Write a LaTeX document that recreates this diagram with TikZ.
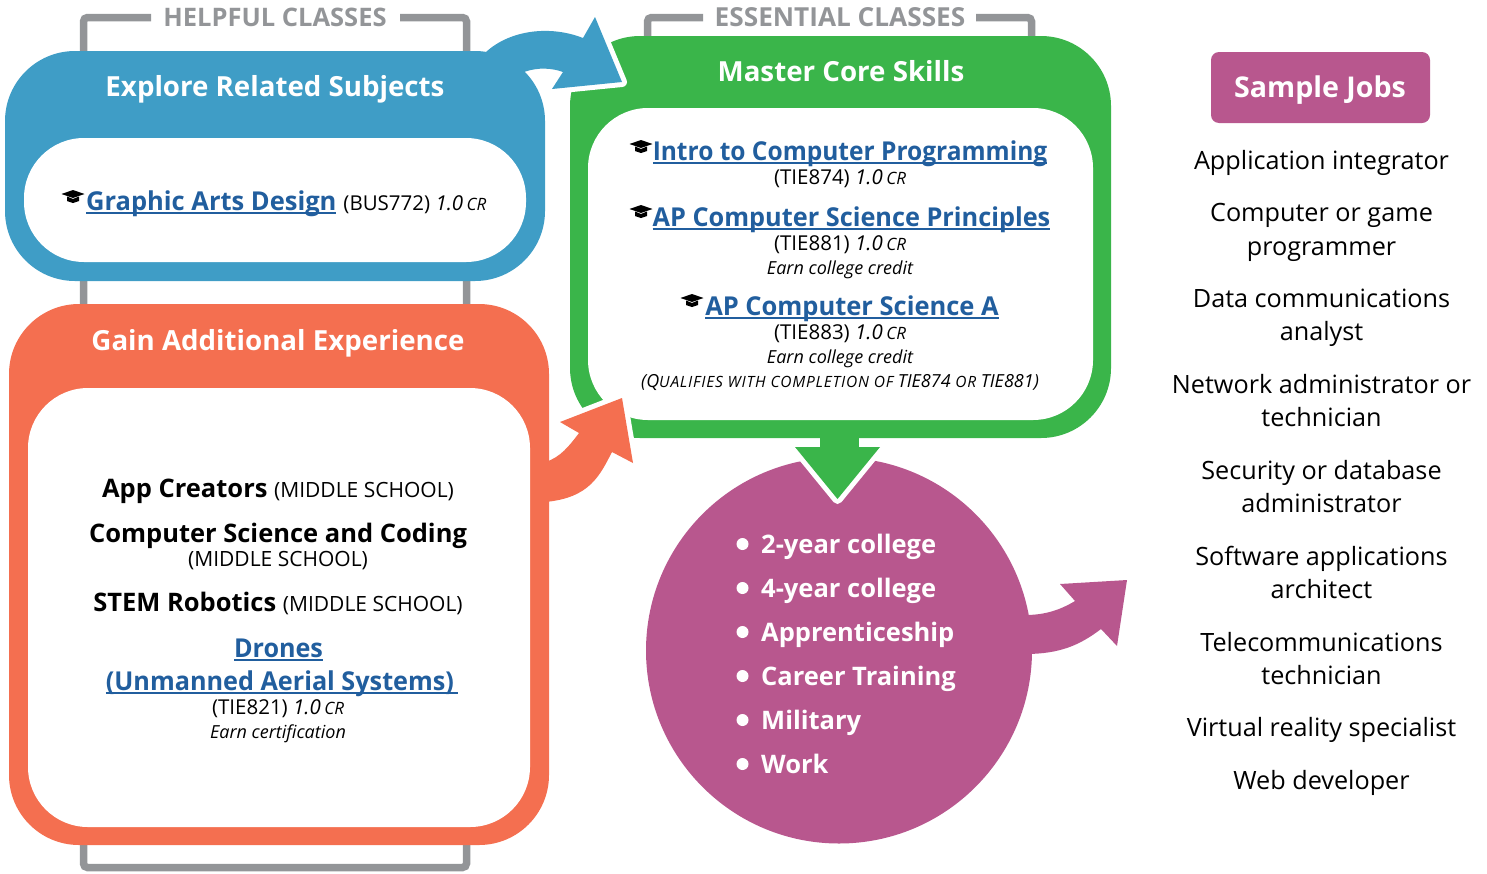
\documentclass[tikz,border=0pt]{standalone}
\usepackage{fontspec}
\setmainfont{Open Sans}
\definecolor{bluepanel}{HTML}{3F9DC6}
\definecolor{greenpanel}{HTML}{3AB54A}
\definecolor{orangepanel}{HTML}{F46F50}
\definecolor{purplepanel}{HTML}{B8578E}
\definecolor{bracketgray}{HTML}{939598}
\definecolor{linkblue}{HTML}{215E9E}
\newcommand{\linkline}[2][1]{\setbox0\hbox{\scalebox{#1}[1]{#2}}\rlap{\rule[-4pt]{\wd0}{1.8pt}}\box0}
\newcommand{\creditmark}{\textit{1.0\,{\fontsize{17}{17}\selectfont CR}}}
\newcommand{\lowcaps}[1]{{\fontsize{15.5}{16}\selectfont\addfontfeature{LetterSpace=5}#1}}
\tikzset{
    panel/.style={rounded corners=70pt, inner sep=0pt},
    hole/.style={fill=white, rounded corners=60pt, inner sep=0pt},
    bracket/.style={draw=bracketgray, line width=7.5pt, rounded corners=4pt},
    gap/.style={preaction={draw=white, line width=10pt, line join=round}},
    titletext/.style={anchor=base, text=white, font=\fontsize{27.7}{30}\selectfont\bfseries},
    headtext/.style={anchor=base, text=bracketgray, font=\fontsize{25.5}{28}\selectfont\bfseries},
    linktext/.style={anchor=base, text=linkblue, font=\fontsize{26}{30}\selectfont\bfseries},
    coursetext/.style={anchor=base, font=\fontsize{25.5}{30}\selectfont\bfseries},
    plaintext/.style={anchor=base, font=\fontsize{20.5}{24}\selectfont},
    notetext/.style={anchor=base, font=\fontsize{18}{22}\selectfont\itshape},
    pathtext/.style={anchor=base west, inner sep=0pt, text=white, font=\fontsize{25.5}{30}\selectfont\bfseries},
    jobtext/.style={anchor=base, font=\fontsize{25.2}{30}\selectfont},
    hat/.pic={
        \fill (-11.5,-2) -- (0,-6) -- (11.5,-2) -- (0,2) -- cycle;
        \fill (-6,0.5) -- (0,3) -- (6,0.5) -- (6,5) -- (0,7) -- (-6,5) -- cycle;
    }
}
\begin{document}
\begin{tikzpicture}[x=1pt, y=-1pt]
    \useasboundingbox (0,0) rectangle (1487,873);

    \draw[bracket] (151,17.5) -| (83.5,867.5) -| (466.5,17.5) -- (400,17.5);
    \draw[bracket] (703,17.5) -| (647.5,42);
    \draw[bracket] (976,17.5) -| (1031.5,42);
    \node[headtext] (helpful) at (275,26) {HELPFUL CLASSES};
    \node[headtext, font=\fontsize{26.2}{28}\selectfont\bfseries] (essential) at (840,26) {ESSENTIAL CLASSES};

    \node[panel, fill=greenpanel, minimum width=541pt, minimum height=402pt] (master) at (840.5,237) {};
    \node[hole, minimum width=505pt, minimum height=312pt] (masterhole) at (840.5,264) {};

    \fill[bluepanel, gap] (486,52) .. controls (510,30) and (550,25) .. (583,38)
        -- (595,17) -- (622,82) -- (552,89) -- (563,72)
        .. controls (552,68) and (538,67) .. (524,72) -- cycle;
    \node[panel, fill=bluepanel, minimum width=540pt, minimum height=230pt] (explore) at (275,166) {};
    \node[hole, minimum width=502pt, minimum height=124pt] (explorehole) at (275,200) {};

    \fill[orangepanel, gap] (545,462) .. controls (560,458) and (570,445) .. (579,433)
        -- (560,422) -- (622,398) -- (633,463) -- (612,452)
        .. controls (600,475) and (590,498) .. (545,502) -- cycle;
    \node[panel, fill=orangepanel, minimum width=540pt, minimum height=541pt] (gain) at (279,574.5) {};
    \node[hole, minimum width=502pt, minimum height=439pt] (gainhole) at (279,607.5) {};

    \node[circle, fill=purplepanel, inner sep=0pt, minimum size=386pt] (next) at (839,650.5) {};
    \fill[greenpanel, gap] (795,447) -- (880,447) -- (837.5,499) -- cycle;
    \fill[greenpanel] (820,436) rectangle (859,470);
    \fill[purplepanel] (1025,615) .. controls (1045,615) and (1060,610) .. (1075,601)
        -- (1060,584) -- (1127,580) -- (1117,646) -- (1101,629)
        .. controls (1080,645) and (1060,654) .. (1025,654) -- cycle;

    \node[titletext] (exploretitle) at (275,96) {Explore Related Subjects};
    \node[titletext] (mastertitle) at (841,81) {Master Core Skills};
    \node[titletext] (gaintitle) at (278,350) {Gain Additional Experience};

    \pic at (73,196) {hat};
    \node[anchor=base west, inner sep=0pt] (graphic) at (86,210) {\fontsize{26}{30}\selectfont\bfseries\color{linkblue}\linkline[.98]{Graphic Arts Design}\hspace{7pt}\mdseries\fontsize{20.5}{24}\selectfont\color{black}(BUS772) \creditmark};

    \pic at (641,146) {hat};
    \pic at (641,211) {hat};
    \pic at (692,300) {hat};
    \node[linktext] (intro) at (850,160) {\linkline[.943]{Intro to Computer Programming}};
    \node[plaintext] (tie874) at (840,184) {(TIE874) \creditmark};
    \node[linktext] (principles) at (851.5,226) {\linkline[.973]{AP Computer Science Principles}};
    \node[plaintext] (tie881) at (840,250) {(TIE881) \creditmark};
    \node[notetext] (credita) at (840,274) {Earn college credit};
    \node[linktext] (csa) at (852,315) {\linkline[.98]{AP Computer Science A}};
    \node[plaintext] (tie883) at (840,339) {(TIE883) \creditmark};
    \node[notetext] (creditb) at (840,363) {Earn college credit};
    \node[notetext] (qualifies) at (840,387) {(Q\lowcaps{UALIFIES WITH COMPLETION OF} TIE874 \lowcaps{OR} TIE881)};

    \node[coursetext] (app) at (278,497) {App Creators {\mdseries\fontsize{21}{24}\selectfont (MIDDLE SCHOOL)}};
    \node[coursetext] (coding) at (278,542) {Computer Science and Coding};
    \node[plaintext, font=\fontsize{21}{24}\selectfont] (codingnote) at (278,566) {(MIDDLE SCHOOL)};
    \node[coursetext] (stem) at (278,611) {STEM Robotics {\mdseries\fontsize{21}{24}\selectfont (MIDDLE SCHOOL)}};
    \node[linktext] (drones) at (278.5,657) {\linkline[.967]{Drones}};
    \node[linktext] (unmanned) at (282,690) {\linkline[.97]{(Unmanned Aerial Systems)\,}};
    \node[plaintext] (tie821) at (278,714) {(TIE821) \creditmark};
    \node[notetext] (certify) at (278,738) {Earn certification};

    \foreach \i/\y/\txt in {1/553/2-year college, 2/597/4-year college, 3/641/Apprenticeship, 4/685/Career Training, 5/729/Military, 6/773/Work} {
        \node[pathtext] (path\i) at (761,\y) {\txt};
        \fill[white] (742.5,\y-9) circle (6pt);
    }

    \node[fill=purplepanel, rounded corners=8pt, minimum width=219pt, minimum height=71pt, inner sep=0pt] (jobs) at (1320.5,87.5) {};
    \node[titletext, font=\fontsize{28.6}{30}\selectfont\bfseries] (jobstitle) at (1320,97) {Sample Jobs};
    \foreach \i/\y/\txt in {1/169/Application integrator, 2/221/Computer or game, 3/255/programmer, 4/307/Data communications, 5/340/analyst, 6/393/Network administrator or, 7/426/technician, 8/479/Security or database, 9/512/administrator, 10/565/Software applications, 11/598/architect, 12/651/Telecommunications, 13/684/technician, 14/736/Virtual reality specialist, 15/789/Web developer} {
        \node[jobtext] (job\i) at (1321.5,\y) {\txt};
    }
\end{tikzpicture}
\end{document}
